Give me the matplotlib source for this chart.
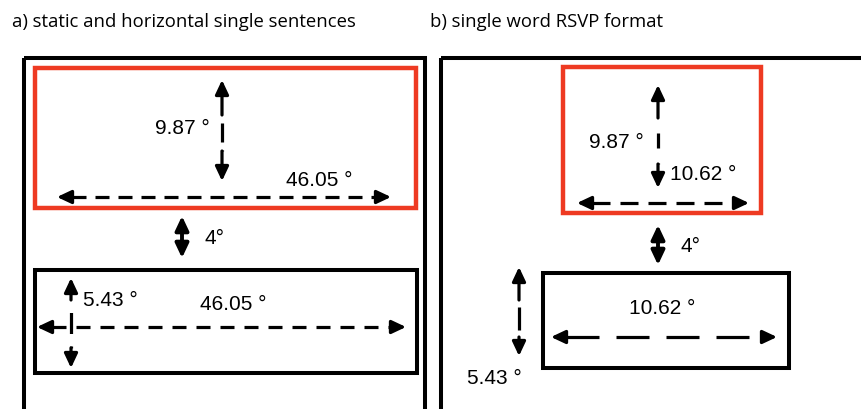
import numpy as np
import matplotlib.pyplot as plt
from matplotlib.patches import Rectangle

plt.rcParams['lines.scale_dashes'] = False

# panel titles
titles = ['a) static and horizontal single sentences', 'b) single word RSVP format']

# visual angles shown in the diagram (degrees)
text_height = 9.87
sentence_width = 46.05
word_width = 10.62
line_height = 5.43
gap = 4

RED = '#ee3a22'

W, H = 862, 409
fig = plt.figure(figsize=(W / 100, H / 100), dpi=100)
ax = fig.add_axes([0, 0, 1, 1])
ax.set_xlim(0, W)
ax.set_ylim(H, 0)
ax.axis('off')

PX = 0.72  # points per pixel at dpi 100


def box(x0, y0, x1, y1, color='k', lw=2.9):
    ax.add_patch(Rectangle((x0, y0), x1 - x0, y1 - y0, fill=False,
                           edgecolor=color, lw=lw, joinstyle='miter'))


def arrow(x0, y0, x1, y1, dash=None, stem=(15, 15), lw=2.3, gap_first=False, hs=1.0):
    # dash and stem given in pixels
    p0 = np.array([x0, y0], float)
    p1 = np.array([x1, y1], float)
    u = (p1 - p0) / np.linalg.norm(p1 - p0)
    b0 = p0 + u * stem[0]
    b1 = p1 - u * stem[1]
    if dash:
        pat = (dash[0] * PX, dash[1] * PX)
        ls = (pat[0] if gap_first else 0, pat)
    else:
        ls = '-'
    ax.plot([b0[0], b1[0]], [b0[1], b1[1]], color='k', lw=lw,
            linestyle=ls, solid_capstyle='butt', dash_capstyle='butt')
    style = f'-|>,head_length={0.85 * hs},head_width={0.4 * hs}'
    for tip, base in [(p0, b0), (p1, b1)]:
        ax.annotate('', xy=tuple(tip), xytext=tuple(base),
                    arrowprops=dict(arrowstyle=style, color='k', lw=lw,
                                    shrinkA=0, shrinkB=0))


def deg(v):
    return f'{v:.2f} °'


tfont = dict(family='Open Sans', fontsize=13.3, va='center', ha='left')
lfont = dict(family='Liberation Sans', fontsize=15, va='center')

# ---- panel a ----
ax.text(12, 22, titles[0], **tfont)
box(24, 58, 425, 430)
box(35, 68, 416, 208, color=RED, lw=3.2)
arrow(222, 80, 222, 181, dash=(19, 8), stem=(35, 30), gap_first=True)
ax.text(210, 128, deg(text_height), ha='right', **lfont)
arrow(57, 197, 391, 197, dash=(14, 9))
ax.text(353, 180, deg(sentence_width), ha='right', **lfont)

arrow(182, 216, 182, 258, lw=2.8, stem=(13, 13))
ax.text(205, 238, f'{gap}°', ha='left', **lfont)

box(35, 270, 417, 373)
arrow(71, 278, 71, 368, dash=(21, 12.5), stem=(22, 20), gap_first=True)
ax.text(83, 300, deg(line_height), ha='left', **lfont)
arrow(37, 327, 406, 327, dash=(14, 10))
ax.text(233, 304, deg(sentence_width), ha='center', **lfont)

# ---- panel b ----
ax.text(430, 22, titles[1], **tfont)
box(441, 58, 880, 430)
box(563, 67, 761, 213, color=RED, lw=3.2)
arrow(658, 85, 658, 188, dash=(15, 15), stem=(33, 24), gap_first=True)
ax.text(644, 142, deg(text_height), ha='right', **lfont)
ax.text(670, 175, deg(word_width), ha='left', **lfont)
arrow(577, 203, 749, 203, dash=(18, 10))

arrow(658, 225, 658, 265, lw=2.8, stem=(13, 13))
ax.text(681, 247, f'{gap}°', ha='left', **lfont)

box(543, 273, 789, 368)
ax.text(662, 308, deg(word_width), ha='center', **lfont)
arrow(551, 337, 777, 337, dash=(33, 17))
arrow(519, 267, 519, 356, dash=(23, 7), stem=(33, 19), gap_first=True)
ax.text(522, 378, deg(line_height), ha='right', **lfont)

fig.savefig('out.png', dpi=100)
